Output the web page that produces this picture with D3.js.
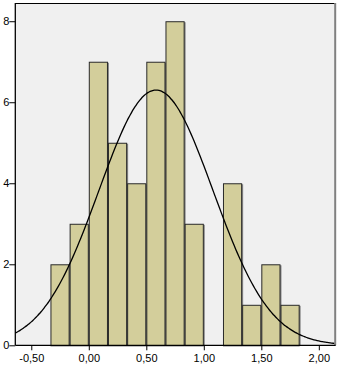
<!DOCTYPE html>
<html>
<head>
<meta charset="utf-8">
<script src="https://cdn.jsdelivr.net/npm/d3@7"></script>
<style>
  body { margin: 0; background: #fff; }
  text { font-family: Arial, "Liberation Sans", sans-serif; font-size: 11px; fill: #000; }
</style>
</head>
<body>
<svg id="chart" width="346" height="369"></svg>
<script>
//
// Data
//
var bin_start = -1 / 3;
var bin_width = 1 / 6;
var counts = [2, 3, 7, 5, 4, 7, 8, 3, 0, 4, 1, 2, 1];
var curve_mean = 0.584;
var curve_sd = 0.496;
var x_ticks = [-0.5, 0, 0.5, 1, 1.5, 2];
var y_ticks = [0, 2, 4, 6, 8];

var total = d3.sum(counts);
var bins = counts.map(function (c, i) {
    return { x0: bin_start + i * bin_width, x1: bin_start + (i + 1) * bin_width, n: c };
});

//
// Layout
//
var pLeft = 15.3, pRight = 334.7, pTop = 3, pBottom = 345.3;
var svg = d3.select("#chart");

var x = d3.scaleLinear().domain([-0.639, 2.138]).range([pLeft, pRight]);
var y = d3.scaleLinear().domain([0, 8.45]).range([pBottom, pTop]);

var fmt = function (d) { return d3.format(".2f")(d).replace(".", ",").replace("\u2212", "-"); };

// plot background
svg.append("rect")
    .attr("x", pLeft).attr("y", pTop)
    .attr("width", pRight - pLeft).attr("height", pBottom - pTop)
    .attr("fill", "#f0f0f0");

// bars (with the grey shadow on the right)
var g = svg.append("g");
var bars = bins.filter(function (b) { return b.n > 0; });

g.selectAll("rect.shadow")
    .data(bars)
    .enter()
    .append("rect")
    .attr("class", "shadow")
    .attr("x", function (d) { return x(d.x0) + 1; })
    .attr("y", function (d) { return y(d.n) + 1; })
    .attr("width", function (d) { return x(d.x1) - x(d.x0); })
    .attr("height", function (d) { return y(0) - y(d.n) - 1; })
    .attr("fill", "#888");

g.selectAll("rect.bar")
    .data(bars)
    .enter()
    .append("rect")
    .attr("class", "bar")
    .attr("x", function (d) { return x(d.x0) + 0.5; })
    .attr("y", function (d) { return y(d.n) + 0.5; })
    .attr("width", function (d) { return x(d.x1) - x(d.x0) - 1; })
    .attr("height", function (d) { return y(0) - y(d.n); })
    .attr("fill", "#d3ce9b")
    .attr("stroke", "#2a2a2a")
    .attr("stroke-width", 1);

// normal curve
var normal = function (v) {
    var z = (v - curve_mean) / curve_sd;
    return total * bin_width / (curve_sd * Math.sqrt(2 * Math.PI)) * Math.exp(-0.5 * z * z);
};
var xs = d3.range(0, 201).map(function (i) {
    var d = x.domain();
    return d[0] + (d[1] - d[0]) * i / 200;
});
svg.append("path")
    .datum(xs)
    .attr("fill", "none")
    .attr("stroke", "#000")
    .attr("stroke-width", 1.3)
    .attr("d", d3.line()
        .x(function (d) { return x(d); })
        .y(function (d) { return y(normal(d)); })
        .curve(d3.curveBasis));

// frame
svg.append("line")
    .attr("x1", pLeft).attr("x2", pRight).attr("y1", pTop + 0.5).attr("y2", pTop + 0.5)
    .attr("stroke", "#000");
svg.append("line")
    .attr("x1", pRight + 0.5).attr("x2", pRight + 0.5).attr("y1", pTop).attr("y2", pBottom)
    .attr("stroke", "#808080").attr("stroke-width", 2);

// axes
var xAxis = d3.axisBottom(x).tickValues(x_ticks).tickFormat(fmt).tickSize(5).tickSizeOuter(0);
var yAxis = d3.axisLeft(y).tickValues(y_ticks).tickFormat(d3.format("d")).tickSize(6).tickSizeOuter(0);

var gx = svg.append("g").attr("transform", "translate(0," + pBottom + ")").call(xAxis);
var gy = svg.append("g").attr("transform", "translate(" + pLeft + ",0)").call(yAxis);

[gx, gy].forEach(function (a) {
    a.select(".domain").attr("stroke", "#000").attr("stroke-width", 1.3);
    a.selectAll(".tick line").attr("stroke", "#000");
    a.selectAll("text").attr("font-family", null).attr("font-size", null).attr("fill", "#000");
});
gx.select(".domain").attr("d", "M" + pLeft + ",0H" + (pRight + 1));
gx.selectAll(".tick text").attr("dy", "0.95em").attr("y", 6);
gy.select(".domain").attr("d", "M0," + pTop + "V" + pBottom);
gy.selectAll(".tick text").attr("x", -6);
</script>
</body>
</html>
